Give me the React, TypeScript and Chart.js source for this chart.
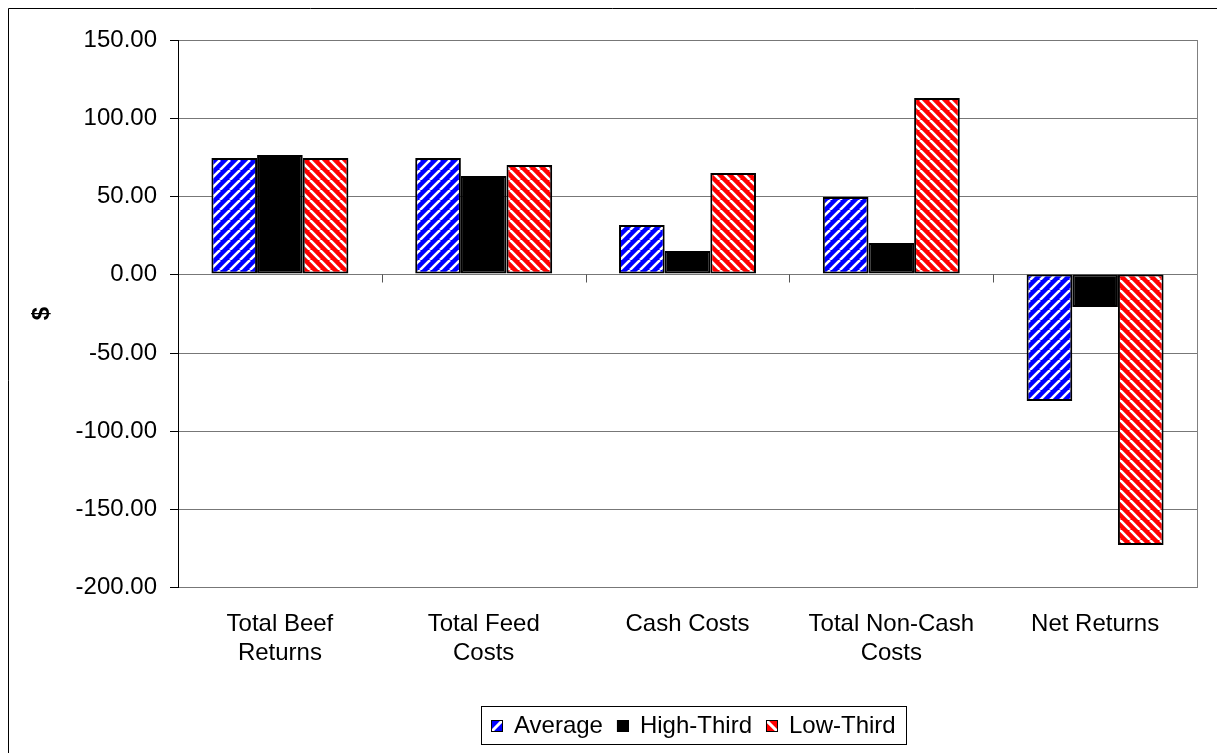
import React, { useEffect, useRef } from 'react';
import { Chart, registerables } from 'chart.js';

Chart.register(...registerables);

const categories: (string | string[])[] = [
  ['Total Beef', 'Returns'],
  ['Total Feed', 'Costs'],
  'Cash Costs',
  ['Total Non-Cash', 'Costs'],
  'Net Returns',
];
const seriesNames = ['Average', 'High-Third', 'Low-Third'];
const average = [74.3, 74.6, 31.4, 49.5, -81.3];
const highThird = [76.2, 62.8, 15.2, 19.9, -20.6];
const lowThird = [74.3, 69.8, 65.0, 113.2, -173.2];
const yTicks = [-200, -150, -100, -50, 0, 50, 100, 150];

const FONT = '"Liberation Sans", Arial, sans-serif';
const FS = 24;
const TILE = 10;

function stripes(ctx: CanvasRenderingContext2D, color: string, dir: 'up' | 'down') {
  const c = document.createElement('canvas');
  c.width = TILE;
  c.height = TILE;
  const g = c.getContext('2d')!;
  g.fillStyle = color;
  g.fillRect(0, 0, TILE, TILE);
  g.strokeStyle = '#fff';
  g.lineWidth = 2.6;
  for (const k of [-TILE, 0, TILE]) {
    g.beginPath();
    if (dir === 'up') {
      g.moveTo(k, TILE);
      g.lineTo(k + TILE, 0);
    } else {
      g.moveTo(k, 0);
      g.lineTo(k + TILE, TILE);
    }
    g.stroke();
  }
  return ctx.createPattern(c, 'repeat')!;
}

const swatchInfo = [
  { color: '#0000ff', dir: 'up' },
  { color: '#000000', dir: 'none' },
  { color: '#ff0000', dir: 'down' },
];

const framePlugin = {
  id: 'frame',
  beforeDraw(chart: any) {
    const ctx = chart.ctx as CanvasRenderingContext2D;
    ctx.save();
    ctx.fillStyle = '#fff';
    ctx.fillRect(0, 0, chart.width, chart.height);
    ctx.strokeStyle = '#000';
    ctx.lineWidth = 1;
    ctx.beginPath();
    ctx.moveTo(8.5, chart.height);
    ctx.lineTo(8.5, 8.5);
    ctx.lineTo(chart.width, 8.5);
    ctx.stroke();
    ctx.restore();
  },
  afterDraw(chart: any) {
    const ctx = chart.ctx as CanvasRenderingContext2D;
    const area = chart.chartArea;
    const xs = chart.scales.x;
    const ys = chart.scales.y;
    ctx.save();
    // right border of plot area
    ctx.strokeStyle = '#808080';
    ctx.lineWidth = 1;
    ctx.beginPath();
    ctx.moveTo(Math.round(area.right) + 0.5, Math.round(area.top));
    ctx.lineTo(Math.round(area.right) + 0.5, Math.round(area.bottom) + 1);
    ctx.stroke();
    // category tick marks on zero line
    const y0 = Math.round(ys.getPixelForValue(0)) + 0.5;
    const n = chart.data.labels.length;
    const cw = xs.width / n;
    ctx.strokeStyle = '#555';
    for (let i = 1; i < n; i++) {
      const x = Math.round(xs.getPixelForValue(i) - cw / 2) + 0.5;
      ctx.beginPath();
      ctx.moveTo(x, y0);
      ctx.lineTo(x, y0 + 8);
      ctx.stroke();
    }
    // legend box
    ctx.font = `${FS}px ${FONT}`;
    ctx.textBaseline = 'middle';
    ctx.textAlign = 'left';
    const sw = 12, gap = 11, itemGap = 14, padX = 10;
    const ds = chart.data.datasets;
    const widths = ds.map((d: any) => ctx.measureText(d.label).width);
    let total = padX * 2 + itemGap * (ds.length - 1);
    widths.forEach((w: number) => (total += sw + gap + w));
    const cx = (area.left + area.right) / 2 + 6;
    const boxL = Math.round(cx - total / 2);
    const boxT = 706;
    const boxH = 38;
    ctx.strokeStyle = '#000';
    ctx.strokeRect(boxL + 0.5, boxT + 0.5, Math.round(total), boxH);
    const cy = boxT + boxH / 2 + 1;
    let x = boxL + padX;
    ds.forEach((d: any, i: number) => {
      const s = swatchInfo[i];
      const sx = x, sy = Math.round(cy - sw / 2);
      ctx.fillStyle = s.color;
      ctx.fillRect(sx, sy, sw, sw);
      if (s.dir !== 'none') {
        ctx.save();
        ctx.beginPath();
        ctx.rect(sx, sy, sw, sw);
        ctx.clip();
        ctx.strokeStyle = '#fff';
        ctx.lineWidth = 3;
        ctx.beginPath();
        if (s.dir === 'up') {
          ctx.moveTo(sx, sy + sw);
          ctx.lineTo(sx + sw, sy);
        } else {
          ctx.moveTo(sx, sy);
          ctx.lineTo(sx + sw, sy + sw);
        }
        ctx.stroke();
        ctx.restore();
      }
      ctx.strokeStyle = '#000';
      ctx.lineWidth = 1;
      ctx.strokeRect(sx + 0.5, sy + 0.5, sw - 1, sw - 1);
      ctx.fillStyle = '#000';
      ctx.fillText(d.label, x + sw + gap, cy);
      x += sw + gap + widths[i] + itemGap;
    });
    ctx.restore();
  },
};

export default function App() {
  const ref = useRef<HTMLCanvasElement>(null);
  useEffect(() => {
    const canvas = ref.current!;
    const ctx = canvas.getContext('2d')!;
    const blue = stripes(ctx, '#0000ff', 'up');
    const red = stripes(ctx, '#ff0000', 'down');
    const chart = new Chart(ctx, {
      type: 'bar',
      data: {
        labels: categories as any,
        datasets: [
          { label: seriesNames[0], data: average, backgroundColor: blue as any, borderColor: '#000', borderWidth: 2, borderSkipped: false },
          { label: seriesNames[1], data: highThird, backgroundColor: '#000', borderColor: '#000', borderWidth: 2, borderSkipped: false },
          { label: seriesNames[2], data: lowThird, backgroundColor: red as any, borderColor: '#000', borderWidth: 2, borderSkipped: false },
        ],
      },
      options: {
        responsive: false,
        animation: false,
        layout: { padding: { left: 0, top: 40, right: 20, bottom: 0 } },
        plugins: { legend: { display: false }, tooltip: { enabled: false }, title: { display: false } },
        datasets: { bar: { categoryPercentage: 0.672, barPercentage: 1 } },
        scales: {
          x: {
            grid: { display: false, drawTicks: false },
            border: { display: false },
            ticks: { color: '#000', font: { family: FONT, size: FS }, padding: 23, maxRotation: 0, autoSkip: false },
            afterFit: (s: any) => { s.height = 166; },
          },
          y: {
            min: -200,
            max: 150,
            alignToPixels: true,
            afterBuildTicks: (s: any) => { s.ticks = yTicks.map((v) => ({ value: v })); },
            grid: { color: '#777', lineWidth: 1, tickColor: '#000', tickLength: 8, drawTicks: true },
            border: { display: true, color: '#000', width: 1 },
            ticks: {
              color: '#000',
              font: { family: FONT, size: FS },
              padding: 13,
              callback: (v: any) => Number(v).toFixed(2),
            },
            title: { display: true, text: '$', color: '#000', font: { family: FONT, size: FS, weight: 'bold' }, padding: { top: 28, bottom: 0 } },
            afterFit: (s: any) => { s.width = 178; },
          },
        },
      },
      plugins: [framePlugin],
    });
    return () => chart.destroy();
  }, []);
  return (
    <canvas
      ref={ref}
      width={1217}
      height={753}
      style={{ position: 'fixed', left: 0, top: 0, display: 'block' }}
    />
  );
}
